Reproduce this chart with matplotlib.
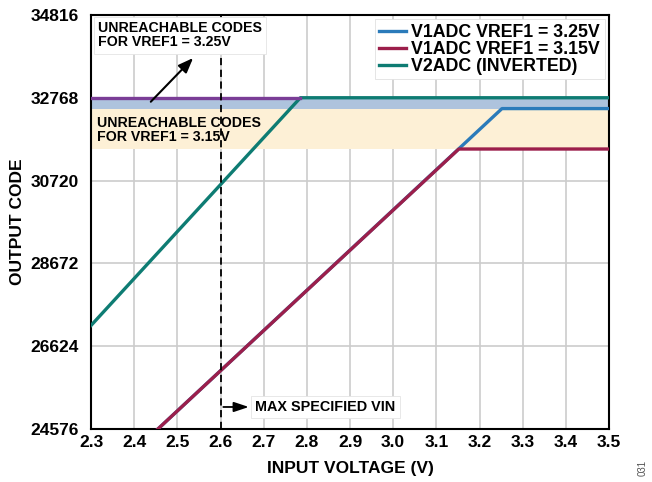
import numpy as np
import matplotlib.pyplot as plt

plt.rcParams['font.family'] = ['Liberation Sans', 'DejaVu Sans']
plt.rcParams['font.weight'] = 'bold'

# data
vin_v1_325 = [2.455, 3.252, 3.50]
code_v1_325 = [24576, 32500, 32500]
vin_v1_315 = [2.455, 3.152, 3.50]
code_v1_315 = [24576, 31500, 31500]
vin_v2 = [2.30, 2.785, 3.50]
code_v2 = [27136, 32768, 32768]
vin_full_scale = [2.30, 2.785]
code_full_scale = [32768, 32768]

band_325 = (32500, 32768)
band_315 = (31490, 32500)
max_vin = 2.6

xticks = np.round(np.arange(2.3, 3.51, 0.1), 1)
yticks = [24576, 26624, 28672, 30720, 32768, 34816]

blue = '#2b7bba'
red = '#9c1f4b'
teal = '#0e7c73'
purple = '#7a3d96'

fig = plt.figure(figsize=(6.52, 4.82), dpi=100)
ax = fig.add_axes([0.1396, 0.110, 0.7945, 0.859])

ax.axhspan(*band_315, color='#fdf0d6', zorder=1, lw=0)
ax.axhspan(*band_325, color='#aec3dd', zorder=1, lw=0)

ax.plot(vin_v1_325, code_v1_325, color=blue, lw=2.4, label='V1ADC VREF1 = 3.25V', zorder=3)
ax.plot(vin_v1_315, code_v1_315, color=red, lw=2.4, label='V1ADC VREF1 = 3.15V', zorder=4)
ax.plot(vin_v2, code_v2, color=teal, lw=2.4, label='V2ADC (INVERTED)', zorder=3)
ax.plot(vin_full_scale, code_full_scale, color=purple, lw=2.4, zorder=3)

ax.axvline(max_vin, color='black', ls=(0, (4, 2.5)), lw=1.3, zorder=5)

ax.set_xlim(2.3, 3.5)
ax.set_ylim(24576, 34816)
ax.set_xticks(xticks)
ax.set_xticklabels([f'{v:.1f}' for v in xticks], fontsize=12.5)
ax.set_yticks(yticks)
ax.set_yticklabels([str(v) for v in yticks], fontsize=12.5)
ax.tick_params(length=0, pad=9)
ax.tick_params(axis='x', pad=4)
ax.grid(True, color='#cccccc', lw=1.2, zorder=0)
ax.set_axisbelow(True)
for s in ax.spines.values():
    s.set_linewidth(1.5)

ax.set_xlabel('INPUT VOLTAGE (V)', fontsize=12.5, fontweight='bold', labelpad=8)
ax.set_ylabel('OUTPUT CODE', fontsize=12.5, fontweight='bold', labelpad=4)

ax.text(2.316, 34309, 'UNREACHABLE CODES\nFOR VREF1 = 3.25V', fontsize=10.2, va='center',
        ha='left', linespacing=1.0, zorder=6,
        bbox=dict(boxstyle='square,pad=0.3', fc='white', ec='#e4e4e4', lw=0.6))
ax.annotate('', xy=(2.541, 33800), xytext=(2.434, 32620),
            arrowprops=dict(arrowstyle='-|>,head_width=0.35,head_length=0.9', color='black', lw=1.5),
            zorder=6)
ax.text(2.314, 31959, 'UNREACHABLE CODES\nFOR VREF1 = 3.15V', fontsize=10.2, va='center',
        ha='left', linespacing=1.0, zorder=6)

ax.text(2.680, 25120, 'MAX SPECIFIED VIN', fontsize=10.4, va='center', ha='left', zorder=6,
        bbox=dict(boxstyle='square,pad=0.3', fc='white', ec='#e4e4e4', lw=0.6))
ax.annotate('', xy=(2.672, 25120), xytext=(max_vin, 25120),
            arrowprops=dict(arrowstyle='-|>,head_width=0.3,head_length=0.9', color='black', lw=1.3),
            zorder=6)

leg = ax.legend(loc='upper right', fontsize=12.8, handlelength=1.5, handletextpad=0.3,
                labelspacing=0.0, borderpad=0.25, borderaxespad=0.25, fancybox=False,
                framealpha=1, edgecolor='#e0e0e0')
leg.get_frame().set_linewidth(0.6)
leg.set_zorder(7)

fig.text(0.985, 0.03, '031', rotation=90, fontsize=7, color='#555555', fontweight='normal',
         ha='center', va='center')

fig.savefig('out.png', dpi=100)
